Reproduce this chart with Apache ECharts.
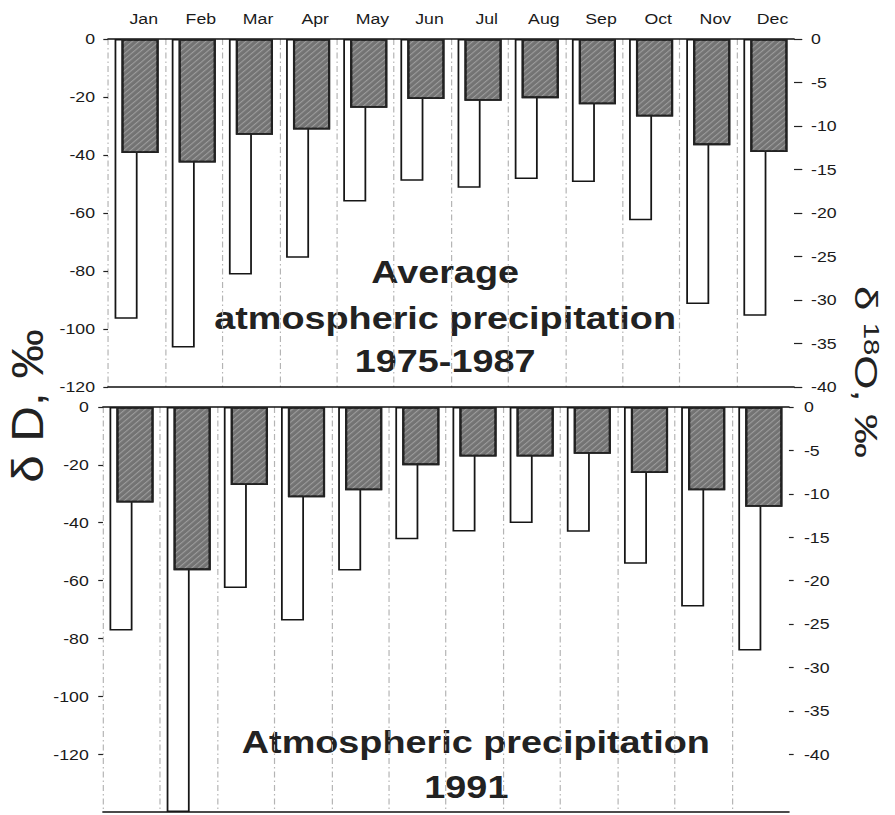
<!DOCTYPE html>
<html><head><meta charset="utf-8">
<script src="https://cdn.jsdelivr.net/npm/echarts@6/dist/echarts.min.js"></script>
<style>
html,body{margin:0;padding:0;background:#fff;overflow:hidden;}
#chart{width:758px;height:815px;transform:scaleX(1.1807);transform-origin:0 0;}
</style></head><body><div id="chart"></div>
<script>
// ---- data ----
const months = ['Jan','Feb','Mar','Apr','May','Jun','Jul','Aug','Sep','Oct','Nov','Dec'];
// Average atmospheric precipitation 1975-1987
const dD_avg   = [-96.5,-106.4,-81.2,-75.4,-56.0,-48.9,-51.3,-48.3,-49.3,-62.5,-91.4,-95.4];
const d18O_avg = [-13.1,-14.2,-11.0,-10.4,-7.9,-6.9,-7.1,-6.8,-7.5,-8.9,-12.2,-13.0];
// Atmospheric precipitation 1991
const dD_1991   = [-77.3,-140.0,-62.6,-73.8,-56.5,-45.7,-43.0,-40.1,-43.1,-54.2,-69.0,-84.2];
const d18O_1991 = [-11.0,-18.8,-9.0,-10.4,-9.6,-6.7,-5.7,-5.7,-5.4,-7.6,-9.6,-11.5];
// tick labels
const dDTicks   = [0,-20,-40,-60,-80,-100,-120];
const d18OTicks = [0,-5,-10,-15,-20,-25,-30,-35,-40];
const titleTop = ['Average','atmospheric precipitation','1975-1987'];
const titleBottom = ['Atmospheric precipitation','1991'];

const FONT = '"Liberation Sans", Arial, sans-serif';
const INK = '#1a1a1a';
const chart = echarts.init(document.getElementById('chart'), null, {renderer:'svg'});

const gridLine = {show:true, showMaxLine:false, lineStyle:{color:'#b4b4b4', width:1, type:[6,3,1.5,3]}};
function xTop(gi, labels){
  return {type:'category', gridIndex:gi, position:'top', data:months,
    axisLine:{show:true, onZero:false, lineStyle:{color:'#111', width:1.5}},
    axisTick:{show:false},
    axisLabel:{show:labels, fontFamily:FONT, fontSize:15, color:INK, margin:13, padding:[0,0,0,12]},
    splitLine:gridLine};
}
function xBottom(gi){
  return {type:'category', gridIndex:gi, position:'bottom', data:months,
    axisLine:{show:true, onZero:false, lineStyle:{color:'#111', width:1.5}},
    axisTick:{show:false}, axisLabel:{show:false}, splitLine:{show:false}};
}
function yAxis(gi, pos, min, ticks, tickLen, margin){
  return {type:'value', gridIndex:gi, position:pos, min:min, max:0,
    interval: ticks[0]-ticks[1],
    axisLine:{show:false},
    axisTick:{show:true, length:tickLen, customValues:ticks, lineStyle:{color:'#222', width:1.2}},
    axisLabel:{fontFamily:FONT, fontSize:15, color:INK, margin:margin, customValues:ticks,
      formatter: v => (v < ticks[ticks.length-1] - 1e-6 ? '' : String(v))},
    splitLine:{show:false}};
}
const decal = {symbol:'rect', symbolSize:1, dashArrayX:[1,0], dashArrayY:[1,3],
  rotation:-Math.PI/4, color:'rgba(235,235,235,0.35)'};
function whiteBars(data, xi, yi){
  return {type:'bar', xAxisIndex:xi, yAxisIndex:yi, data:data, barWidth:19.5, barGap:'-70%',
    itemStyle:{color:'#ffffff', borderColor:'#161616', borderWidth:1.5}, silent:true, z:2};
}
function darkBars(data, xi, yi){
  return {type:'bar', xAxisIndex:xi, yAxisIndex:yi, data:data, barWidth:31.5, barGap:'-70%',
    itemStyle:{color:'#737373', borderColor:'#222', borderWidth:1.8, decal:decal}, silent:true, z:3};
}
function txt(s, x, y, size){
  return {type:'text', x:x, y:y, silent:true,
    style:{text:s, font:'bold '+size+'px '+FONT, fill:'#222', align:'center', verticalAlign:'middle'}};
}

chart.setOption({
  animation:false,
  backgroundColor:'#fff',
  grid:[
    {left:91.5, width:581, top:39, height:348},
    {left:87.2, width:581, top:407, height:405}
  ],
  xAxis:[xTop(0,true), xBottom(0), xTop(1,false), xBottom(1)],
  yAxis:[
    yAxis(0,'left',-120,dDTicks,4,11),
    yAxis(0,'right',-40,d18OTicks,7,14.4),
    yAxis(1,'left',-140,dDTicks,4,12),
    yAxis(1,'right',-140/3,d18OTicks,4,12.7)
  ],
  series:[
    whiteBars(dD_avg,0,0), darkBars(d18O_avg,0,1),
    whiteBars(dD_1991,2,2), darkBars(d18O_1991,2,3)
  ],
  graphic:[
    txt(titleTop[0], 377, 272, 32),
    txt(titleTop[1], 377, 318, 32),
    txt(titleTop[2], 377, 361, 32),
    txt(titleBottom[0], 403, 742, 32),
    txt(titleBottom[1], 395, 787, 32),
    {type:'text', x:23, y:406, rotation:Math.PI/2, scaleX:1.3, silent:true,
      style:{text:'δ D, ‰', font:'38px '+FONT, fill:'#222', align:'center', verticalAlign:'middle'}},
    {type:'text', x:733.5, y:372, rotation:-Math.PI/2, scaleX:1.63, silent:true,
      style:{text:'{a|δ }{s|18}{a|O, ‰}', align:'center', verticalAlign:'middle',
        rich:{a:{font:'27px '+FONT, fill:'#222'}, s:{font:'18px '+FONT, fill:'#222', verticalAlign:'top'}}}}
  ]
});
</script></body></html>
